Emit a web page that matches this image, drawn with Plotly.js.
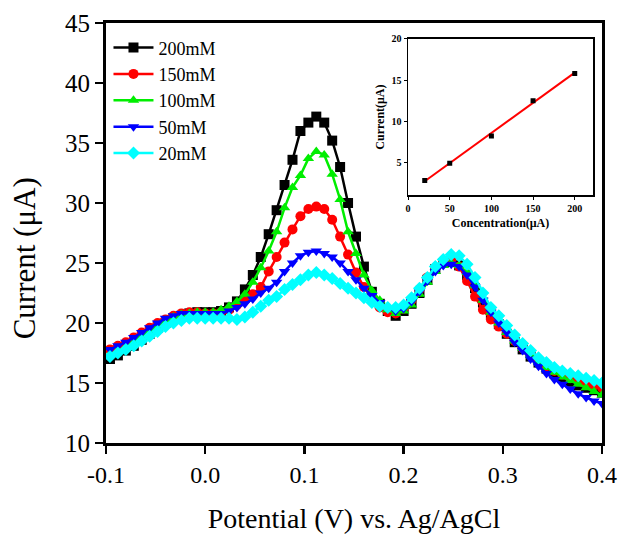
<!DOCTYPE html>
<html>
<head>
<meta charset="utf-8">
<script src="https://cdn.plot.ly/plotly-3.0.1.min.js"></script>
<style>html,body{margin:0;padding:0;background:#fff;}#chart{width:619px;height:547px;}</style>
</head>
<body>
<div id="chart"></div>
<script>
// Potential (V) vs Ag/AgCl
const potential = [-0.096,-0.088,-0.080,-0.072,-0.064,-0.056,-0.048,-0.040,-0.032,-0.024,-0.016,-0.008,
  0.000,0.008,0.016,0.024,0.032,0.040,0.048,0.056,0.064,0.072,0.080,0.088,0.096,0.104,0.112,0.120,
  0.128,0.136,0.144,0.152,0.160,0.168,0.176,0.184,0.192,0.200,0.208,0.216,0.224,0.232,0.240,0.248,
  0.256,0.264,0.272,0.280,0.288,0.296,0.304,0.312,0.320,0.328,0.336,0.344,0.352,0.360,0.368,0.376,
  0.384,0.392,0.400];

const series200 = [17.0,17.3,17.7,18.1,18.6,19.1,19.6,20.0,20.4,20.6,20.8,20.9,20.9,20.9,21.0,21.3,
  21.8,22.8,24.0,25.5,27.4,29.4,31.5,33.6,36.0,36.7,37.2,36.7,
  35.2,33.0,30.0,27.2,24.7,22.6,21.6,21.0,20.6,
  21.0,21.6,22.5,23.6,24.5,25.0,25.1,24.8,24.0,22.9,21.7,20.7,19.9,19.1,18.4,17.8,17.2,16.7,16.2,15.8,15.4,15.1,14.8,14.6,14.4,14.2];
const series150 = [17.8,18.1,18.4,18.8,19.2,19.6,20.0,20.3,20.6,20.8,20.9,20.9,20.8,20.8,20.9,21.1,
  21.5,21.9,22.4,23.0,24.3,25.5,26.7,27.8,28.9,29.5,29.7,29.5,
  28.6,27.2,25.7,24.2,23.0,22.1,21.3,20.9,20.8,
  21.2,21.9,22.8,23.8,24.6,25.2,25.3,24.7,23.5,22.2,21.1,20.3,19.7,19.1,18.5,17.9,17.3,16.8,16.4,16.0,15.7,15.4,15.2,15.0,14.8,14.6];
const series100 = [17.4,17.7,18.0,18.4,18.9,19.4,19.8,20.2,20.5,20.7,20.8,20.9,20.9,20.9,21.1,21.4,
  21.8,22.4,23.4,24.6,26.0,27.6,29.6,31.3,32.3,33.7,34.3,34.0,
  32.4,30.3,27.6,25.8,24.0,22.7,21.9,21.1,20.8,
  21.0,21.5,22.4,23.4,24.3,24.8,25.0,24.8,24.2,23.1,21.9,20.9,20.0,19.2,18.5,17.9,17.3,16.8,16.3,15.9,15.5,15.2,14.9,14.6,14.3,14.0];
const series50 = [17.8,18.1,18.4,18.8,19.2,19.6,20.0,20.4,20.6,20.8,20.8,20.8,20.8,20.8,20.8,21.0,
  21.3,21.6,22.0,22.5,22.9,23.4,24.3,25.0,25.6,25.9,26.0,25.8,
  25.5,25.0,24.3,23.6,22.9,22.3,21.7,21.2,21.0,
  21.2,21.8,22.6,23.5,24.3,24.8,24.9,24.7,24.0,23.0,21.9,20.9,20.0,19.2,18.4,17.7,17.0,16.4,15.8,15.3,14.9,14.5,14.1,13.8,13.5,13.3];
const series20 = [17.2,17.5,17.8,18.1,18.5,18.9,19.3,19.7,20.0,20.2,20.4,20.4,20.4,20.4,20.4,20.4,
  20.3,20.5,20.9,21.4,21.9,22.2,22.8,23.2,23.6,24.0,24.2,24.0,
  23.7,23.3,22.9,22.5,22.1,21.7,21.4,21.3,21.3,
  21.5,22.1,22.9,23.8,24.7,25.3,25.7,25.6,24.9,23.8,22.5,21.3,20.6,19.8,19.0,18.3,17.7,17.1,16.7,16.3,16.0,15.8,15.6,15.4,15.2,15.0];

const seriesNames = ["200mM","150mM","100mM","50mM","20mM"];

// Inset calibration
const concentration = [20, 50, 100, 150, 200];
const peakCurrent = [2.8, 4.9, 8.2, 12.5, 15.8];
const fitX = [20, 200];
const fitY = [2.7, 15.9];

const serif = "'Liberation Serif', 'Times New Roman', serif";
const styles = [
  {color:"#000000", symbol:"square"},
  {color:"#ff0000", symbol:"circle"},
  {color:"#00ee00", symbol:"triangle-up"},
  {color:"#0000ff", symbol:"triangle-down"},
  {color:"#00ffff", symbol:"diamond"}
];
const ys = [series200, series150, series100, series50, series20];

const traces = ys.map((y, k) => ({
  x: potential, y: y, type: "scatter", mode: "lines+markers", name: seriesNames[k],
  line: {color: styles[k].color, width: 2.5},
  marker: {color: styles[k].color, symbol: styles[k].symbol, size: 10},
  xaxis: "x", yaxis: "y"
}));

traces.push({
  x: fitX, y: fitY, type: "scatter", mode: "lines", showlegend: false,
  line: {color: "#ff0000", width: 2}, xaxis: "x2", yaxis: "y2"
});
traces.push({
  x: concentration, y: peakCurrent, type: "scatter", mode: "markers", showlegend: false,
  marker: {color: "#000000", symbol: "square", size: 5}, xaxis: "x2", yaxis: "y2"
});

const layout = {
  width: 619, height: 547,
  margin: {l: 106, r: 17, t: 23, b: 104},
  paper_bgcolor: "#ffffff", plot_bgcolor: "#ffffff",
  font: {family: serif, color: "#000"},
  showlegend: true,
  legend: {x: 0.005, y: 0.985, xanchor: "left", yanchor: "top", bgcolor: "rgba(0,0,0,0)",
    font: {family: serif, size: 18, color: "#000"}, itemwidth: 40, tracegroupgap: 0},
  xaxis: {
    domain: [0, 1], range: [-0.1, 0.4], tickvals: [-0.1, 0, 0.1, 0.2, 0.3, 0.4],
    ticktext: ["-0.1", "0.0", "0.1", "0.2", "0.3", "0.4"],
    ticks: "outside", ticklen: 8, tickwidth: 2.5, tickcolor: "#000",
    showline: true, linewidth: 3, linecolor: "#000", mirror: true,
    showgrid: false, zeroline: false,
    tickfont: {family: serif, size: 24, color: "#000"},
    title: {text: "Potential (V) vs. Ag/AgCl", font: {family: serif, size: 28, color: "#000"}, standoff: 22}
  },
  yaxis: {
    domain: [0, 1], range: [10, 45], dtick: 5, tick0: 10,
    ticks: "outside", ticklen: 8, tickwidth: 2.5, tickcolor: "#000",
    showline: true, linewidth: 3, linecolor: "#000", mirror: true,
    showgrid: false, zeroline: false,
    tickfont: {family: serif, size: 25, color: "#000"}
  },
  xaxis2: {
    domain: [0.609, 0.982], anchor: "y2", range: [0, 222], tickvals: [0, 50, 100, 150, 200],
    ticks: "outside", ticklen: 3, tickwidth: 1, tickcolor: "#000",
    showline: true, linewidth: 1.5, linecolor: "#000", mirror: true,
    showgrid: false, zeroline: false,
    tickfont: {family: serif, size: 10, color: "#000", weight: "bold"},
    title: {text: "<b>Concentration(μA)</b>", font: {family: serif, size: 12, color: "#000"}, standoff: 6}
  },
  yaxis2: {
    domain: [0.590, 0.962], anchor: "x2", range: [1, 20], tickvals: [5, 10, 15, 20],
    ticks: "outside", ticklen: 3, tickwidth: 1, tickcolor: "#000",
    showline: true, linewidth: 1.5, linecolor: "#000", mirror: true,
    showgrid: false, zeroline: false,
    tickfont: {family: serif, size: 10, color: "#000", weight: "bold"},
    title: {text: "<b>Current(μA)</b>", font: {family: serif, size: 12, color: "#000"}, standoff: 4}
  },
  annotations: [{
    text: "Current (μA)", xref: "paper", yref: "paper", x: -0.165, y: 0.44,
    xanchor: "center", yanchor: "middle", textangle: -90, showarrow: false,
    font: {family: serif, size: 31, color: "#000"}
  }]
};

Plotly.newPlot("chart", traces, layout, {displayModeBar: false, staticPlot: true});
</script>
</body>
</html>
